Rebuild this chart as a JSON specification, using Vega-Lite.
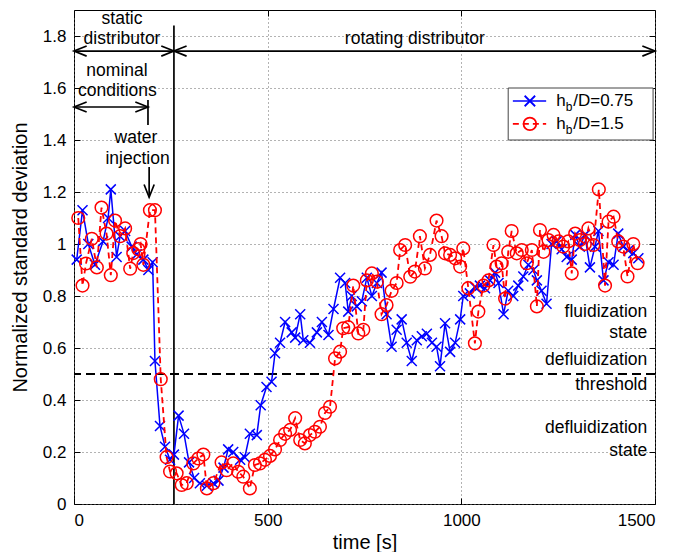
{
  "$schema": "https://vega.github.io/schema/vega-lite/v6.json",
  "width": 581,
  "height": 494,
  "autosize": "none",
  "padding": {"left": 74, "top": 10, "right": 34, "bottom": 48},
  "background": "white",
  "config": {
    "view": {"stroke": "#000", "strokeWidth": 1},
    "font": "Liberation Sans",
    "text": {"font": "Liberation Sans"},
    "axis": {
      "labelFont": "Liberation Sans", "labelFontSize": 17, "labelColor": "#000",
      "titleFont": "Liberation Sans", "titleFontSize": 20, "titleFontWeight": "normal", "titleColor": "#000",
      "domain": false, "tickColor": "#000", "tickSize": -6, "labelPadding": 14,
      "grid": true, "gridColor": "#666", "gridDash": [1, 3], "gridWidth": 1
    }
  },
  "datasets": {
    "blue": [
      {"t":7,"v":0.94},{"t":22,"v":1.13},{"t":37,"v":1.0},{"t":54,"v":0.92},{"t":75,"v":1.01},{"t":88,"v":1.1},{"t":95,"v":1.21},{"t":110,"v":0.95},{"t":119,"v":1.03},{"t":132,"v":1.05},{"t":149,"v":0.99},{"t":162,"v":0.96},{"t":179,"v":0.94},{"t":192,"v":0.9},{"t":203,"v":0.93},{"t":209,"v":0.55},{"t":222,"v":0.3},{"t":235,"v":0.22},{"t":248,"v":0.17},{"t":258,"v":0.19},{"t":270,"v":0.34},{"t":284,"v":0.27},{"t":297,"v":0.16},{"t":310,"v":0.1},{"t":325,"v":0.08},{"t":343,"v":0.07},{"t":360,"v":0.08},{"t":373,"v":0.09},{"t":386,"v":0.14},{"t":398,"v":0.21},{"t":411,"v":0.2},{"t":429,"v":0.17},{"t":441,"v":0.18},{"t":454,"v":0.27},{"t":472,"v":0.265},{"t":482,"v":0.38},{"t":497,"v":0.45},{"t":510,"v":0.47},{"t":519,"v":0.58},{"t":532,"v":0.62},{"t":545,"v":0.7},{"t":562,"v":0.66},{"t":571,"v":0.64},{"t":584,"v":0.73},{"t":592,"v":0.63},{"t":609,"v":0.62},{"t":627,"v":0.66},{"t":640,"v":0.7},{"t":657,"v":0.65},{"t":670,"v":0.75},{"t":687,"v":0.87},{"t":700,"v":0.85},{"t":708,"v":0.74},{"t":717,"v":0.8},{"t":730,"v":0.76},{"t":743,"v":0.78},{"t":756,"v":0.87},{"t":769,"v":0.8},{"t":782,"v":0.85},{"t":794,"v":0.89},{"t":807,"v":0.73},{"t":820,"v":0.605},{"t":833,"v":0.67},{"t":846,"v":0.71},{"t":859,"v":0.62},{"t":872,"v":0.55},{"t":885,"v":0.63},{"t":898,"v":0.645},{"t":911,"v":0.655},{"t":924,"v":0.62},{"t":936,"v":0.605},{"t":945,"v":0.53},{"t":958,"v":0.695},{"t":971,"v":0.585},{"t":984,"v":0.62},{"t":997,"v":0.71},{"t":1005,"v":0.8},{"t":1022,"v":0.81},{"t":1035,"v":0.835},{"t":1048,"v":0.84},{"t":1061,"v":0.83},{"t":1074,"v":0.86},{"t":1087,"v":0.89},{"t":1096,"v":0.85},{"t":1109,"v":0.73},{"t":1121,"v":0.82},{"t":1134,"v":0.8},{"t":1147,"v":0.84},{"t":1160,"v":0.875},{"t":1173,"v":0.92},{"t":1186,"v":0.9},{"t":1195,"v":0.86},{"t":1207,"v":0.82},{"t":1220,"v":0.77},{"t":1233,"v":1.0},{"t":1246,"v":1.01},{"t":1259,"v":0.98},{"t":1272,"v":0.95},{"t":1285,"v":0.94},{"t":1294,"v":1.035},{"t":1306,"v":0.99},{"t":1319,"v":1.035},{"t":1332,"v":0.91},{"t":1345,"v":0.99},{"t":1354,"v":1.05},{"t":1367,"v":0.86},{"t":1380,"v":0.93},{"t":1393,"v":0.92},{"t":1405,"v":1.04},{"t":1418,"v":0.99},{"t":1431,"v":0.975},{"t":1444,"v":0.965},{"t":1457,"v":0.945}
    ],
    "red": [
      {"t":11,"v":1.1},{"t":22,"v":0.84},{"t":31,"v":0.925},{"t":46,"v":1.02},{"t":59,"v":0.91},{"t":71,"v":1.14},{"t":84,"v":1.04},{"t":95,"v":0.88},{"t":106,"v":1.09},{"t":119,"v":1.03},{"t":132,"v":1.06},{"t":145,"v":0.905},{"t":153,"v":0.965},{"t":166,"v":0.98},{"t":172,"v":1.0},{"t":179,"v":0.92},{"t":196,"v":1.13},{"t":209,"v":1.13},{"t":224,"v":0.48},{"t":239,"v":0.18},{"t":248,"v":0.125},{"t":265,"v":0.118},{"t":278,"v":0.073},{"t":291,"v":0.08},{"t":308,"v":0.156},{"t":321,"v":0.175},{"t":334,"v":0.19},{"t":343,"v":0.06},{"t":360,"v":0.08},{"t":381,"v":0.16},{"t":394,"v":0.13},{"t":411,"v":0.156},{"t":424,"v":0.124},{"t":437,"v":0.105},{"t":454,"v":0.06},{"t":467,"v":0.15},{"t":480,"v":0.156},{"t":493,"v":0.17},{"t":506,"v":0.185},{"t":519,"v":0.21},{"t":532,"v":0.246},{"t":545,"v":0.27},{"t":558,"v":0.285},{"t":571,"v":0.33},{"t":584,"v":0.246},{"t":596,"v":0.233},{"t":609,"v":0.265},{"t":622,"v":0.278},{"t":635,"v":0.297},{"t":648,"v":0.35},{"t":661,"v":0.374},{"t":674,"v":0.56},{"t":687,"v":0.586},{"t":695,"v":0.676},{"t":708,"v":0.68},{"t":721,"v":0.84},{"t":734,"v":0.656},{"t":747,"v":0.67},{"t":756,"v":0.86},{"t":769,"v":0.887},{"t":782,"v":0.855},{"t":794,"v":0.73},{"t":807,"v":0.765},{"t":820,"v":0.82},{"t":833,"v":0.85},{"t":842,"v":0.977},{"t":855,"v":0.996},{"t":868,"v":0.874},{"t":880,"v":0.894},{"t":893,"v":1.03},{"t":906,"v":0.906},{"t":919,"v":0.958},{"t":936,"v":1.09},{"t":949,"v":1.03},{"t":958,"v":0.964},{"t":971,"v":0.958},{"t":984,"v":0.945},{"t":997,"v":0.913},{"t":1005,"v":0.983},{"t":1018,"v":0.83},{"t":1035,"v":0.618},{"t":1044,"v":0.74},{"t":1057,"v":0.84},{"t":1070,"v":0.86},{"t":1083,"v":0.996},{"t":1091,"v":0.913},{"t":1104,"v":0.926},{"t":1113,"v":0.79},{"t":1121,"v":0.97},{"t":1130,"v":1.05},{"t":1143,"v":0.964},{"t":1156,"v":0.977},{"t":1169,"v":0.926},{"t":1182,"v":0.977},{"t":1195,"v":0.76},{"t":1203,"v":1.054},{"t":1212,"v":0.97},{"t":1225,"v":1.015},{"t":1238,"v":1.035},{"t":1251,"v":1.01},{"t":1263,"v":0.99},{"t":1276,"v":1.01},{"t":1285,"v":0.887},{"t":1294,"v":1.04},{"t":1306,"v":1.015},{"t":1319,"v":1.0},{"t":1328,"v":1.06},{"t":1341,"v":0.996},{"t":1355,"v":1.21},{"t":1371,"v":0.84},{"t":1380,"v":1.086},{"t":1393,"v":1.105},{"t":1405,"v":1.01},{"t":1418,"v":0.99},{"t":1429,"v":0.875},{"t":1444,"v":1.0},{"t":1455,"v":0.926}
    ],
    "threshold": [{"v": 0.5}],
    "lines": [
      {"t":0,"t2":1500,"v":1.742,"v2":1.742},
      {"t":258,"t2":258,"v":0,"v2":1.84},
      {"t":0,"t2":191,"v":1.527,"v2":1.527},
      {"t":191,"t2":191,"v":1.554,"v2":1.458},
      {"t":194,"t2":194,"v":1.296,"v2":1.18}
    ],
    "heads": [
      {"t":0,"v":1.742,"d":"left"},{"t":258,"v":1.742,"d":"right"},
      {"t":258,"v":1.742,"d":"left"},{"t":1500,"v":1.742,"d":"right"},
      {"t":0,"v":1.527,"d":"left"},{"t":191,"v":1.527,"d":"right"},
      {"t":194,"v":1.18,"d":"down"}
    ],
    "txt_c": [
      {"t":124,"v":1.865,"label":"static"},
      {"t":124,"v":1.79,"label":"distributor"},
      {"t":880,"v":1.79,"label":"rotating distributor"},
      {"t":111,"v":1.665,"label":"nominal"},
      {"t":112,"v":1.588,"label":"conditions"},
      {"t":160,"v":1.406,"label":"water"},
      {"t":164,"v":1.327,"label":"injection"}
    ],
    "txt_r": [
      {"t":1480,"v":0.738,"label":"fluidization"},
      {"t":1480,"v":0.658,"label":"state"},
      {"t":1480,"v":0.554,"label":"defluidization"},
      {"t":1480,"v":0.458,"label":"threshold"},
      {"t":1480,"v":0.292,"label":"defluidization"},
      {"t":1480,"v":0.204,"label":"state"}
    ],
    "legbox": [{"t":1121,"t2":1495,"v":1.4,"v2":1.6}],
    "leg": [
      {"s":"0.75","t":1133,"t2":1219,"tm":1177,"tt":1245,"v":1.55,"lab":"/D=0.75"},
      {"s":"1.5","t":1133,"t2":1219,"tm":1177,"tt":1245,"v":1.462,"lab":"/D=1.5"}
    ]
  },
  "resolve": {"axis": {"x": "independent", "y": "independent"}},
  "layer": [
    {
      "layer": [
        {
          "data": {"name": "threshold"},
          "mark": {"type": "rule", "color": "#000", "strokeWidth": 2, "strokeDash": [9, 5]},
          "encoding": {
            "y": {"field": "v", "type": "quantitative",
                  "scale": {"domain": [0, 1.9], "nice": false, "zero": false},
                  "axis": {"values": [0,0.2,0.4,0.6,0.8,1,1.2,1.4,1.6,1.8], "format": "~g", "title": "Normalized standard deviation", "titlePadding": 12}}
          }
        },
        {
          "data": {"name": "lines"},
          "mark": {"type": "rule", "color": "#000", "strokeWidth": 1.7},
          "encoding": {
            "x": {"field": "t", "type": "quantitative",
                  "scale": {"domain": [0, 1500], "nice": false, "zero": false},
                  "axis": {"values": [0, 500, 1000, 1500], "format": "d", "title": "time [s]", "titlePadding": 4}},
            "x2": {"field": "t2"},
            "y": {"field": "v", "type": "quantitative"},
            "y2": {"field": "v2"}
          }
        },
        {
          "data": {"name": "heads"},
          "mark": {"type": "point", "filled": false, "stroke": "#000", "strokeWidth": 1.7, "size": 160, "opacity": 1},
          "encoding": {
            "x": {"field": "t", "type": "quantitative"},
            "y": {"field": "v", "type": "quantitative"},
            "shape": {"field": "d", "type": "nominal", "legend": null,
                      "scale": {"domain": ["left", "right", "down"],
                                "range": ["M2,-0.8L0,0L2,0.8", "M-2,-0.8L0,0L-2,0.8", "M-0.8,-2L0,0L0.8,-2"]}}
          }
        },
        {
          "data": {"name": "txt_c"},
          "mark": {"type": "text", "fontSize": 17.5, "align": "center", "baseline": "middle", "color": "#000"},
          "encoding": {
            "x": {"field": "t", "type": "quantitative"},
            "y": {"field": "v", "type": "quantitative"},
            "text": {"field": "label"}
          }
        },
        {
          "data": {"name": "txt_r"},
          "mark": {"type": "text", "fontSize": 17.5, "align": "right", "baseline": "middle", "color": "#000"},
          "encoding": {
            "x": {"field": "t", "type": "quantitative"},
            "y": {"field": "v", "type": "quantitative"},
            "text": {"field": "label"}
          }
        },
        {
          "data": {"name": "blue"},
          "mark": {"type": "line", "color": "#0000ff", "strokeWidth": 1.5},
          "encoding": {
            "x": {"field": "t", "type": "quantitative"},
            "y": {"field": "v", "type": "quantitative"}
          }
        },
        {
          "data": {"name": "blue"},
          "mark": {"type": "point", "shape": "M-1,-1L1,1M-1,1L1,-1", "filled": false, "stroke": "#0000ff", "strokeWidth": 1.5, "size": 100, "opacity": 1},
          "encoding": {
            "x": {"field": "t", "type": "quantitative"},
            "y": {"field": "v", "type": "quantitative"}
          }
        },
        {
          "data": {"name": "red"},
          "mark": {"type": "line", "color": "#ff0000", "strokeWidth": 1.8, "strokeDash": [6, 4]},
          "encoding": {
            "x": {"field": "t", "type": "quantitative"},
            "y": {"field": "v", "type": "quantitative"}
          }
        },
        {
          "data": {"name": "red"},
          "mark": {"type": "point", "shape": "circle", "filled": false, "stroke": "#ff0000", "strokeWidth": 1.5, "size": 160, "opacity": 1},
          "encoding": {
            "x": {"field": "t", "type": "quantitative"},
            "y": {"field": "v", "type": "quantitative"}
          }
        },
        {
          "data": {"name": "legbox"},
          "mark": {"type": "rect", "fill": "#fff", "stroke": "#444", "strokeWidth": 1},
          "encoding": {
            "x": {"field": "t", "type": "quantitative"},
            "x2": {"field": "t2"},
            "y": {"field": "v", "type": "quantitative"},
            "y2": {"field": "v2"}
          }
        },
        {
          "data": {"name": "leg"},
          "mark": {"type": "rule", "strokeWidth": 1.6},
          "encoding": {
            "x": {"field": "t", "type": "quantitative"},
            "x2": {"field": "t2"},
            "y": {"field": "v", "type": "quantitative"},
            "color": {"field": "s", "type": "nominal", "legend": null,
                      "scale": {"domain": ["0.75", "1.5"], "range": ["#0000ff", "#ff0000"]}},
            "strokeDash": {"field": "s", "type": "nominal", "legend": null,
                           "scale": {"domain": ["0.75", "1.5"], "range": [[1, 0], [6, 4]]}}
          }
        },
        {
          "data": {"name": "leg"},
          "transform": [{"filter": "datum.s == '0.75'"}],
          "mark": {"type": "point", "shape": "M-1,-1L1,1M-1,1L1,-1", "filled": false, "stroke": "#0000ff", "strokeWidth": 1.8, "size": 110, "opacity": 1},
          "encoding": {
            "x": {"field": "tm", "type": "quantitative"},
            "y": {"field": "v", "type": "quantitative"}
          }
        },
        {
          "data": {"name": "leg"},
          "transform": [{"filter": "datum.s == '1.5'"}],
          "mark": {"type": "point", "shape": "circle", "filled": false, "stroke": "#ff0000", "strokeWidth": 1.8, "size": 160, "opacity": 1},
          "encoding": {
            "x": {"field": "tm", "type": "quantitative"},
            "y": {"field": "v", "type": "quantitative"}
          }
        },
        {
          "data": {"name": "leg"},
          "mark": {"type": "text", "fontSize": 17, "align": "left", "baseline": "middle", "color": "#000"},
          "encoding": {
            "x": {"field": "tt", "type": "quantitative"},
            "y": {"field": "v", "type": "quantitative"},
            "text": {"value": "h"}
          }
        },
        {
          "data": {"name": "leg"},
          "mark": {"type": "text", "fontSize": 12, "align": "left", "baseline": "middle", "color": "#000", "dx": 9.5, "dy": 6},
          "encoding": {
            "x": {"field": "tt", "type": "quantitative"},
            "y": {"field": "v", "type": "quantitative"},
            "text": {"value": "b"}
          }
        },
        {
          "data": {"name": "leg"},
          "mark": {"type": "text", "fontSize": 17, "align": "left", "baseline": "middle", "color": "#000", "dx": 17},
          "encoding": {
            "x": {"field": "tt", "type": "quantitative"},
            "y": {"field": "v", "type": "quantitative"},
            "text": {"field": "lab"}
          }
        }
      ]
    },
    {
      "data": {"name": "legbox"},
      "mark": {"type": "rule", "strokeOpacity": 0},
      "encoding": {
        "x": {"field": "t", "type": "quantitative",
              "axis": {"orient": "top", "values": [0, 500, 1000, 1500], "labels": false, "grid": false, "title": null}},
        "y": {"field": "v", "type": "quantitative",
              "axis": {"orient": "right", "values": [0,0.2,0.4,0.6,0.8,1,1.2,1.4,1.6,1.8], "labels": false, "grid": false, "title": null}}
      }
    }
  ]
}
